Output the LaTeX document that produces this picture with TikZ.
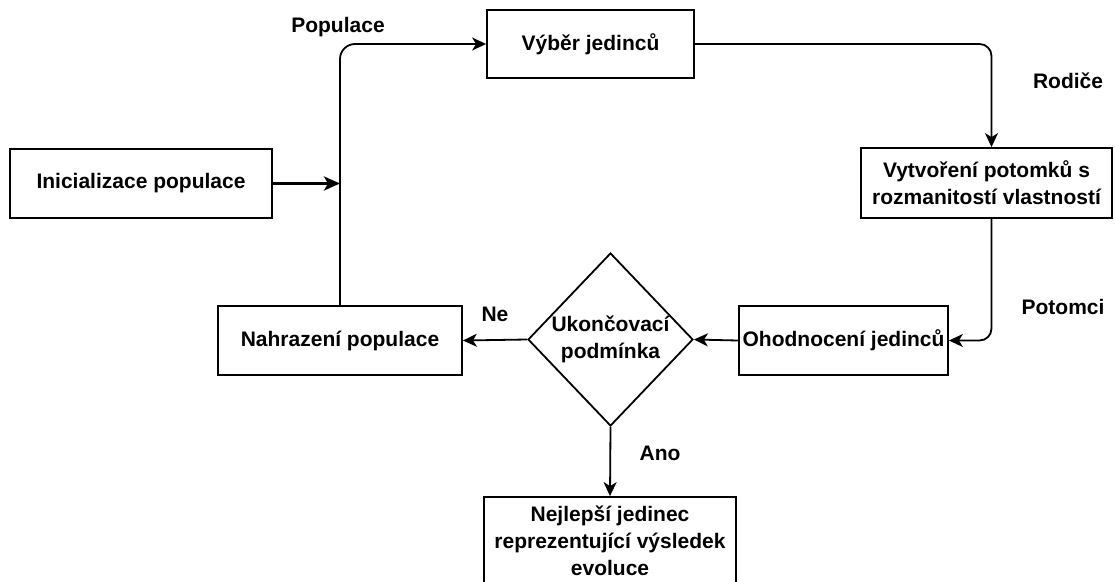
\documentclass[tikz,border=0pt]{standalone}
\usepackage{fontspec}
\setmainfont{Liberation Sans}
\usetikzlibrary{shapes.geometric,arrows.meta}
\begin{document}
\begin{tikzpicture}[x=1pt,y=-1pt,
  every node/.style={font=\bfseries\fontsize{21}{27}\selectfont},
  box/.style={draw,line width=1.8pt,inner sep=0pt,align=center},
  lbl/.style={inner sep=0pt},
  conn/.style={line width=1.8pt,-{Stealth[length=14pt,width=13pt,inset=4pt]}},
  thickconn/.style={line width=3pt,-{Stealth[length=16pt,width=14pt,inset=4pt]}}]
\useasboundingbox (0,0) rectangle (1115,581);
\clip (0,0) rectangle (1115,581);
\node[box,minimum width=207,minimum height=68] (vyber) at (590.5,44) {Výběr jedinců};
\node[box,minimum width=262,minimum height=69] (init) at (141,183.5) {Inicializace populace};
\node[box,minimum width=251,minimum height=70] (vytv) at (986.5,183) {Vytvoření potomků s\\rozmanitostí vlastností};
\node[box,minimum width=244,minimum height=69] (nahr) at (340,340.5) {Nahrazení populace};
\node[box,shape=diamond,minimum width=165,minimum height=173] (cond) at (610.5,339.5) {Ukončovací\\podmínka};
\node[box,minimum width=209,minimum height=69] (ohod) at (843.5,340.5) {Ohodnocení jedinců};
\node[box,minimum width=252,minimum height=88] (nejl) at (610,541) {Nejlepší jedinec\\reprezentující výsledek\\evoluce};

\node[lbl] (lpop) at (338,27) {Populace};
\node[lbl] (lrod) at (1068,81) {Rodiče};
\node[lbl] (lpot) at (1063,307) {Potomci};
\node[lbl] (lne) at (495,314) {Ne};
\node[lbl] (lano) at (660,453) {Ano};

\draw[conn,rounded corners=15] (nahr.north) |- (vyber.west);
\draw[conn,rounded corners=12] (vyber.east) -| ([xshift=5pt]vytv.north);
\draw[conn,rounded corners=12] ([xshift=5pt]vytv.south) |- (ohod.east);
\draw[conn] (ohod.west) -- (cond.east);
\draw[conn] (cond.west) -- (nahr.east);
\draw[conn] (cond.south) -- (nejl.north);
\draw[thickconn] (init.east) -- (init.east -| nahr.north);
\end{tikzpicture}
\end{document}
